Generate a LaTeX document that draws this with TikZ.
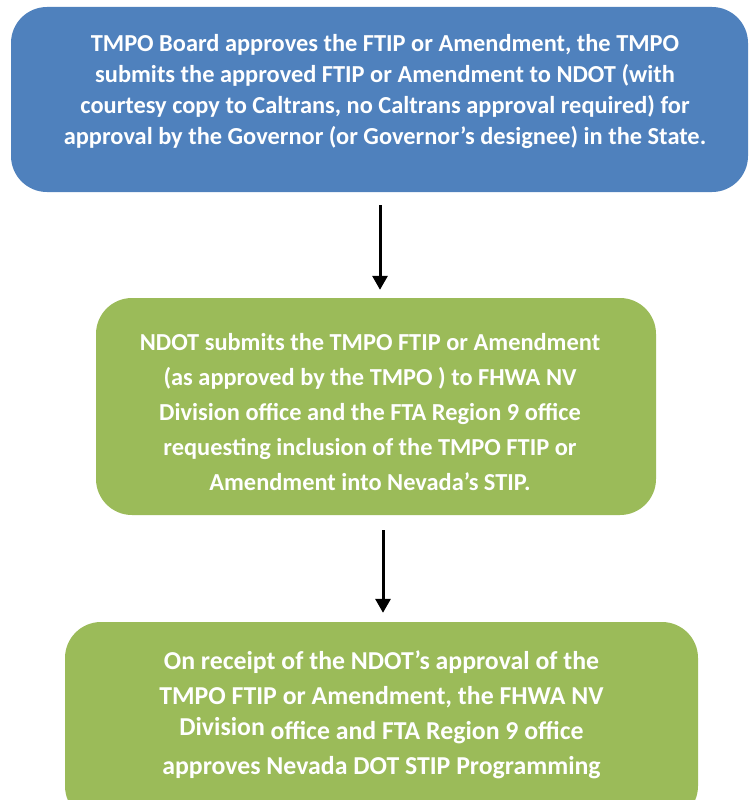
\documentclass[tikz,border=0pt]{standalone}
\usepackage{fontspec}
\setmainfont{Carlito}
\usetikzlibrary{arrows.meta,calc}
\definecolor{boxblue}{HTML}{4F81BD}
\definecolor{boxgreen}{HTML}{9BBB59}
\tikzset{
  stepbox/.style={rounded corners=36pt, inner sep=0pt},
  steptext/.style={text=white, font=\bfseries\fontsize{24.4}{31}\selectfont, align=center, inner sep=0pt},
  flowarrow/.style={line width=3pt, -{Triangle[length=14pt,width=15pt]}}
}
\begin{document}
\begin{tikzpicture}[x=1pt,y=-1pt]
\useasboundingbox (0,0) rectangle (748,800);
\clip (0,0) rectangle (748,800);
% boxes
\node[stepbox, fill=boxblue, minimum width=737pt, minimum height=185pt] (b1) at (379.5,99.5) {};
\node[stepbox, fill=boxgreen, minimum width=560pt, minimum height=217pt] (b2) at (376,406.5) {};
\node[stepbox, fill=boxgreen, minimum width=633pt, minimum height=200pt] (b3) at (381.5,722) {};
% texts
\node[steptext] (t1) at (385,92) {TMPO Board approves the FTIP or Amendment, the TMPO\\submits the approved FTIP or Amendment to NDOT (with\\courtesy copy to Caltrans, no Caltrans approval required) for\\approval by the Governor (or Governor’s designee) in the State.};
\node[steptext, font=\bfseries\fontsize{24.4}{35}\selectfont] (t2) at (370,412) {NDOT submits the TMPO FTIP or Amendment\\(as approved by the TMPO ) to FHWA NV\\Division office and the FTA Region 9 office\\requesting inclusion of the TMPO FTIP or\\Amendment into Nevada’s STIP.};
\node[steptext, font=\bfseries\fontsize{25.8}{35}\selectfont] (t3) at (381.5,715) {On receipt of the NDOT’s approval of the\\TMPO FTIP or Amendment, the FHWA NV\\\raisebox{4pt}{Division} office and FTA Region 9 office\\approves Nevada DOT STIP Programming};
% arrows
\coordinate (a1s) at (380,205);
\coordinate (a2s) at (383,530);
\draw[flowarrow, shorten >=8pt] (a1s) -- (a1s |- b2.north);
\draw[flowarrow, shorten >=9pt] (a2s) -- (a2s |- b3.north);
\end{tikzpicture}
\end{document}
